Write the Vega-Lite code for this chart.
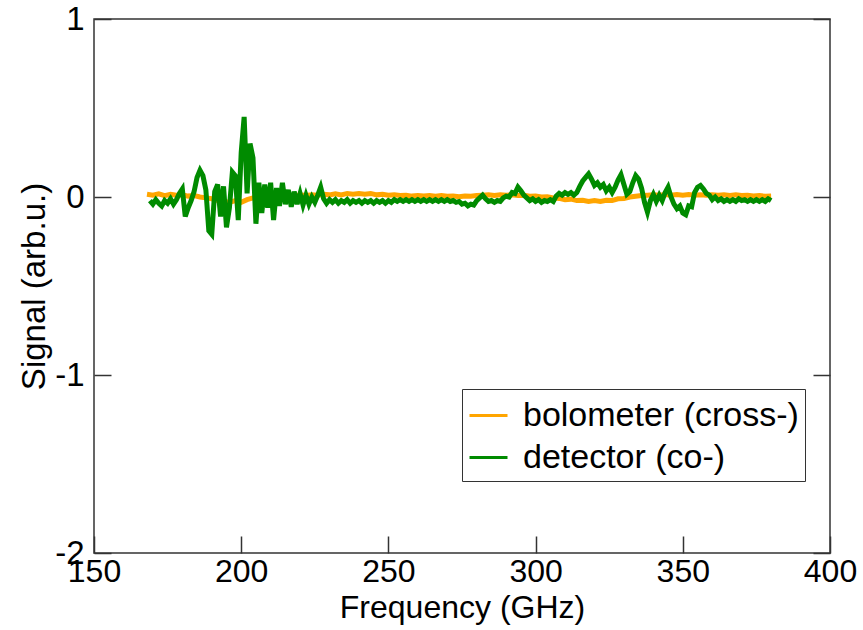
{
  "$schema": "https://vega.github.io/schema/vega-lite/v6.json",
  "width": 736,
  "height": 534,
  "autosize": {"type": "none"},
  "padding": {"left": 94, "top": 19, "right": 33, "bottom": 77},
  "background": "white",
  "config": {
    "view": {"stroke": "#333333", "strokeWidth": 1.5},
    "font": "Liberation Sans",
    "axis": {"labelFont": "Liberation Sans", "titleFont": "Liberation Sans", "labelColor": "black", "titleColor": "black", "titleFontWeight": "normal", "grid": false, "domain": false, "tickColor": "#333333", "tickWidth": 1.5},
    "legend": {"labelFont": "Liberation Sans"}
  },
  "datasets": {
    "main": [
      {"k":"bolometer (cross-)","f":168,"v":0.015},{"k":"bolometer (cross-)","f":170,"v":0.01},{"k":"bolometer (cross-)","f":172,"v":0.018},{"k":"bolometer (cross-)","f":174,"v":0.008},{"k":"bolometer (cross-)","f":176,"v":0.015},{"k":"bolometer (cross-)","f":178,"v":0.01},{"k":"bolometer (cross-)","f":180,"v":0.012},{"k":"bolometer (cross-)","f":182,"v":0.005},{"k":"bolometer (cross-)","f":184,"v":0.008},{"k":"bolometer (cross-)","f":186,"v":0.0},{"k":"bolometer (cross-)","f":188,"v":-0.005},{"k":"bolometer (cross-)","f":190,"v":-0.01},{"k":"bolometer (cross-)","f":192,"v":-0.02},{"k":"bolometer (cross-)","f":194,"v":-0.025},{"k":"bolometer (cross-)","f":196,"v":-0.03},{"k":"bolometer (cross-)","f":198,"v":-0.02},{"k":"bolometer (cross-)","f":200,"v":-0.03},{"k":"bolometer (cross-)","f":202,"v":-0.015},{"k":"bolometer (cross-)","f":204,"v":-0.005},{"k":"bolometer (cross-)","f":206,"v":0.0},{"k":"bolometer (cross-)","f":208,"v":0.005},{"k":"bolometer (cross-)","f":210,"v":0.0},{"k":"bolometer (cross-)","f":212,"v":0.008},{"k":"bolometer (cross-)","f":214,"v":0.005},{"k":"bolometer (cross-)","f":216,"v":0.01},{"k":"bolometer (cross-)","f":218,"v":0.005},{"k":"bolometer (cross-)","f":220,"v":0.012},{"k":"bolometer (cross-)","f":222,"v":0.008},{"k":"bolometer (cross-)","f":224,"v":0.012},{"k":"bolometer (cross-)","f":226,"v":0.01},{"k":"bolometer (cross-)","f":228,"v":0.015},{"k":"bolometer (cross-)","f":230,"v":0.012},{"k":"bolometer (cross-)","f":232,"v":0.018},{"k":"bolometer (cross-)","f":234,"v":0.012},{"k":"bolometer (cross-)","f":236,"v":0.02},{"k":"bolometer (cross-)","f":238,"v":0.015},{"k":"bolometer (cross-)","f":240,"v":0.02},{"k":"bolometer (cross-)","f":242,"v":0.015},{"k":"bolometer (cross-)","f":244,"v":0.02},{"k":"bolometer (cross-)","f":246,"v":0.012},{"k":"bolometer (cross-)","f":248,"v":0.015},{"k":"bolometer (cross-)","f":250,"v":0.01},{"k":"bolometer (cross-)","f":252,"v":0.012},{"k":"bolometer (cross-)","f":254,"v":0.008},{"k":"bolometer (cross-)","f":256,"v":0.01},{"k":"bolometer (cross-)","f":258,"v":0.005},{"k":"bolometer (cross-)","f":260,"v":0.008},{"k":"bolometer (cross-)","f":262,"v":0.005},{"k":"bolometer (cross-)","f":264,"v":0.008},{"k":"bolometer (cross-)","f":266,"v":0.004},{"k":"bolometer (cross-)","f":268,"v":0.008},{"k":"bolometer (cross-)","f":270,"v":0.004},{"k":"bolometer (cross-)","f":272,"v":0.006},{"k":"bolometer (cross-)","f":274,"v":0.002},{"k":"bolometer (cross-)","f":276,"v":0.006},{"k":"bolometer (cross-)","f":278,"v":0.004},{"k":"bolometer (cross-)","f":280,"v":0.008},{"k":"bolometer (cross-)","f":282,"v":0.01},{"k":"bolometer (cross-)","f":284,"v":0.012},{"k":"bolometer (cross-)","f":286,"v":0.008},{"k":"bolometer (cross-)","f":288,"v":0.012},{"k":"bolometer (cross-)","f":290,"v":0.01},{"k":"bolometer (cross-)","f":292,"v":0.012},{"k":"bolometer (cross-)","f":294,"v":0.008},{"k":"bolometer (cross-)","f":296,"v":0.01},{"k":"bolometer (cross-)","f":298,"v":0.004},{"k":"bolometer (cross-)","f":300,"v":0.006},{"k":"bolometer (cross-)","f":302,"v":0.0},{"k":"bolometer (cross-)","f":304,"v":0.002},{"k":"bolometer (cross-)","f":306,"v":-0.005},{"k":"bolometer (cross-)","f":308,"v":-0.008},{"k":"bolometer (cross-)","f":310,"v":-0.015},{"k":"bolometer (cross-)","f":312,"v":-0.012},{"k":"bolometer (cross-)","f":314,"v":-0.02},{"k":"bolometer (cross-)","f":316,"v":-0.018},{"k":"bolometer (cross-)","f":318,"v":-0.025},{"k":"bolometer (cross-)","f":320,"v":-0.02},{"k":"bolometer (cross-)","f":322,"v":-0.025},{"k":"bolometer (cross-)","f":324,"v":-0.018},{"k":"bolometer (cross-)","f":326,"v":-0.02},{"k":"bolometer (cross-)","f":328,"v":-0.01},{"k":"bolometer (cross-)","f":330,"v":-0.008},{"k":"bolometer (cross-)","f":332,"v":0.0},{"k":"bolometer (cross-)","f":334,"v":0.004},{"k":"bolometer (cross-)","f":336,"v":0.008},{"k":"bolometer (cross-)","f":338,"v":0.01},{"k":"bolometer (cross-)","f":340,"v":0.012},{"k":"bolometer (cross-)","f":342,"v":0.01},{"k":"bolometer (cross-)","f":344,"v":0.014},{"k":"bolometer (cross-)","f":346,"v":0.01},{"k":"bolometer (cross-)","f":348,"v":0.014},{"k":"bolometer (cross-)","f":350,"v":0.01},{"k":"bolometer (cross-)","f":352,"v":0.014},{"k":"bolometer (cross-)","f":354,"v":0.01},{"k":"bolometer (cross-)","f":356,"v":0.012},{"k":"bolometer (cross-)","f":358,"v":0.01},{"k":"bolometer (cross-)","f":360,"v":0.012},{"k":"bolometer (cross-)","f":362,"v":0.01},{"k":"bolometer (cross-)","f":364,"v":0.012},{"k":"bolometer (cross-)","f":366,"v":0.008},{"k":"bolometer (cross-)","f":368,"v":0.012},{"k":"bolometer (cross-)","f":370,"v":0.008},{"k":"bolometer (cross-)","f":372,"v":0.01},{"k":"bolometer (cross-)","f":374,"v":0.006},{"k":"bolometer (cross-)","f":376,"v":0.008},{"k":"bolometer (cross-)","f":378,"v":0.004},{"k":"bolometer (cross-)","f":380,"v":0.005},
      {"k":"detector (co-)","f":169,"v":-0.02},{"k":"detector (co-)","f":170,"v":-0.04},{"k":"detector (co-)","f":171,"v":-0.015},{"k":"detector (co-)","f":172,"v":-0.035},{"k":"detector (co-)","f":173,"v":-0.05},{"k":"detector (co-)","f":174,"v":-0.02},{"k":"detector (co-)","f":175,"v":-0.035},{"k":"detector (co-)","f":176,"v":-0.01},{"k":"detector (co-)","f":177,"v":-0.04},{"k":"detector (co-)","f":178,"v":-0.015},{"k":"detector (co-)","f":179,"v":0.02},{"k":"detector (co-)","f":180,"v":0.045},{"k":"detector (co-)","f":181,"v":-0.11},{"k":"detector (co-)","f":182,"v":-0.06},{"k":"detector (co-)","f":183,"v":-0.02},{"k":"detector (co-)","f":184,"v":0.03},{"k":"detector (co-)","f":185,"v":0.11},{"k":"detector (co-)","f":186,"v":0.15},{"k":"detector (co-)","f":187,"v":0.12},{"k":"detector (co-)","f":188,"v":0.04},{"k":"detector (co-)","f":189,"v":-0.19},{"k":"detector (co-)","f":190,"v":-0.21},{"k":"detector (co-)","f":191,"v":0.03},{"k":"detector (co-)","f":192,"v":0.07},{"k":"detector (co-)","f":193,"v":-0.11},{"k":"detector (co-)","f":194,"v":0.06},{"k":"detector (co-)","f":195,"v":-0.17},{"k":"detector (co-)","f":196,"v":-0.06},{"k":"detector (co-)","f":197,"v":0.14},{"k":"detector (co-)","f":198,"v":0.12},{"k":"detector (co-)","f":199,"v":-0.13},{"k":"detector (co-)","f":200,"v":0.25},{"k":"detector (co-)","f":201,"v":0.45},{"k":"detector (co-)","f":202,"v":0.02},{"k":"detector (co-)","f":203,"v":0.3},{"k":"detector (co-)","f":204,"v":0.22},{"k":"detector (co-)","f":205,"v":-0.15},{"k":"detector (co-)","f":206,"v":0.08},{"k":"detector (co-)","f":207,"v":-0.09},{"k":"detector (co-)","f":208,"v":0.07},{"k":"detector (co-)","f":209,"v":-0.06},{"k":"detector (co-)","f":210,"v":0.08},{"k":"detector (co-)","f":211,"v":-0.13},{"k":"detector (co-)","f":212,"v":0.05},{"k":"detector (co-)","f":213,"v":-0.05},{"k":"detector (co-)","f":214,"v":0.08},{"k":"detector (co-)","f":215,"v":-0.04},{"k":"detector (co-)","f":216,"v":0.04},{"k":"detector (co-)","f":217,"v":-0.055},{"k":"detector (co-)","f":218,"v":0.03},{"k":"detector (co-)","f":219,"v":-0.04},{"k":"detector (co-)","f":220,"v":0.02},{"k":"detector (co-)","f":221,"v":-0.045},{"k":"detector (co-)","f":222,"v":0.01},{"k":"detector (co-)","f":223,"v":-0.04},{"k":"detector (co-)","f":224,"v":0.0},{"k":"detector (co-)","f":225,"v":-0.03},{"k":"detector (co-)","f":226,"v":0.01},{"k":"detector (co-)","f":227,"v":0.055},{"k":"detector (co-)","f":228,"v":-0.01},{"k":"detector (co-)","f":229,"v":-0.035},{"k":"detector (co-)","f":230,"v":-0.015},{"k":"detector (co-)","f":231,"v":-0.03},{"k":"detector (co-)","f":232,"v":-0.015},{"k":"detector (co-)","f":233,"v":-0.035},{"k":"detector (co-)","f":234,"v":-0.02},{"k":"detector (co-)","f":235,"v":-0.03},{"k":"detector (co-)","f":236,"v":-0.015},{"k":"detector (co-)","f":237,"v":-0.035},{"k":"detector (co-)","f":238,"v":-0.02},{"k":"detector (co-)","f":239,"v":-0.03},{"k":"detector (co-)","f":240,"v":-0.02},{"k":"detector (co-)","f":241,"v":-0.035},{"k":"detector (co-)","f":242,"v":-0.02},{"k":"detector (co-)","f":243,"v":-0.03},{"k":"detector (co-)","f":244,"v":-0.02},{"k":"detector (co-)","f":245,"v":-0.035},{"k":"detector (co-)","f":246,"v":-0.02},{"k":"detector (co-)","f":247,"v":-0.03},{"k":"detector (co-)","f":248,"v":-0.02},{"k":"detector (co-)","f":249,"v":-0.035},{"k":"detector (co-)","f":250,"v":-0.02},{"k":"detector (co-)","f":251,"v":-0.03},{"k":"detector (co-)","f":252,"v":-0.015},{"k":"detector (co-)","f":253,"v":-0.025},{"k":"detector (co-)","f":254,"v":-0.015},{"k":"detector (co-)","f":255,"v":-0.025},{"k":"detector (co-)","f":256,"v":-0.015},{"k":"detector (co-)","f":257,"v":-0.025},{"k":"detector (co-)","f":258,"v":-0.015},{"k":"detector (co-)","f":259,"v":-0.025},{"k":"detector (co-)","f":260,"v":-0.015},{"k":"detector (co-)","f":261,"v":-0.025},{"k":"detector (co-)","f":262,"v":-0.015},{"k":"detector (co-)","f":263,"v":-0.025},{"k":"detector (co-)","f":264,"v":-0.015},{"k":"detector (co-)","f":265,"v":-0.025},{"k":"detector (co-)","f":266,"v":-0.015},{"k":"detector (co-)","f":267,"v":-0.025},{"k":"detector (co-)","f":268,"v":-0.015},{"k":"detector (co-)","f":269,"v":-0.025},{"k":"detector (co-)","f":270,"v":-0.015},{"k":"detector (co-)","f":271,"v":-0.025},{"k":"detector (co-)","f":272,"v":-0.02},{"k":"detector (co-)","f":273,"v":-0.03},{"k":"detector (co-)","f":274,"v":-0.025},{"k":"detector (co-)","f":275,"v":-0.04},{"k":"detector (co-)","f":276,"v":-0.035},{"k":"detector (co-)","f":277,"v":-0.05},{"k":"detector (co-)","f":278,"v":-0.04},{"k":"detector (co-)","f":279,"v":-0.045},{"k":"detector (co-)","f":280,"v":-0.02},{"k":"detector (co-)","f":281,"v":-0.005},{"k":"detector (co-)","f":282,"v":0.01},{"k":"detector (co-)","f":283,"v":-0.01},{"k":"detector (co-)","f":284,"v":-0.025},{"k":"detector (co-)","f":285,"v":-0.02},{"k":"detector (co-)","f":286,"v":-0.03},{"k":"detector (co-)","f":287,"v":-0.02},{"k":"detector (co-)","f":288,"v":-0.025},{"k":"detector (co-)","f":289,"v":-0.005},{"k":"detector (co-)","f":290,"v":0.005},{"k":"detector (co-)","f":291,"v":0.0},{"k":"detector (co-)","f":292,"v":0.025},{"k":"detector (co-)","f":293,"v":0.02},{"k":"detector (co-)","f":294,"v":0.055},{"k":"detector (co-)","f":295,"v":0.035},{"k":"detector (co-)","f":296,"v":0.01},{"k":"detector (co-)","f":297,"v":-0.005},{"k":"detector (co-)","f":298,"v":-0.02},{"k":"detector (co-)","f":299,"v":-0.01},{"k":"detector (co-)","f":300,"v":-0.025},{"k":"detector (co-)","f":301,"v":-0.015},{"k":"detector (co-)","f":302,"v":-0.03},{"k":"detector (co-)","f":303,"v":-0.02},{"k":"detector (co-)","f":304,"v":-0.025},{"k":"detector (co-)","f":305,"v":-0.015},{"k":"detector (co-)","f":306,"v":-0.025},{"k":"detector (co-)","f":307,"v":0.005},{"k":"detector (co-)","f":308,"v":0.02},{"k":"detector (co-)","f":309,"v":0.01},{"k":"detector (co-)","f":310,"v":0.025},{"k":"detector (co-)","f":311,"v":0.015},{"k":"detector (co-)","f":312,"v":0.025},{"k":"detector (co-)","f":313,"v":0.01},{"k":"detector (co-)","f":314,"v":0.025},{"k":"detector (co-)","f":315,"v":0.06},{"k":"detector (co-)","f":316,"v":0.09},{"k":"detector (co-)","f":317,"v":0.11},{"k":"detector (co-)","f":318,"v":0.13},{"k":"detector (co-)","f":319,"v":0.1},{"k":"detector (co-)","f":320,"v":0.065},{"k":"detector (co-)","f":321,"v":0.08},{"k":"detector (co-)","f":322,"v":0.055},{"k":"detector (co-)","f":323,"v":0.07},{"k":"detector (co-)","f":324,"v":0.035},{"k":"detector (co-)","f":325,"v":0.055},{"k":"detector (co-)","f":326,"v":0.025},{"k":"detector (co-)","f":327,"v":0.055},{"k":"detector (co-)","f":328,"v":0.095},{"k":"detector (co-)","f":329,"v":0.125},{"k":"detector (co-)","f":330,"v":0.07},{"k":"detector (co-)","f":331,"v":0.015},{"k":"detector (co-)","f":332,"v":0.03},{"k":"detector (co-)","f":333,"v":0.08},{"k":"detector (co-)","f":334,"v":0.12},{"k":"detector (co-)","f":335,"v":0.1},{"k":"detector (co-)","f":336,"v":0.05},{"k":"detector (co-)","f":337,"v":-0.03},{"k":"detector (co-)","f":338,"v":-0.085},{"k":"detector (co-)","f":339,"v":-0.02},{"k":"detector (co-)","f":340,"v":0.015},{"k":"detector (co-)","f":341,"v":-0.025},{"k":"detector (co-)","f":342,"v":0.01},{"k":"detector (co-)","f":343,"v":-0.02},{"k":"detector (co-)","f":344,"v":0.025},{"k":"detector (co-)","f":345,"v":0.055},{"k":"detector (co-)","f":346,"v":0.0},{"k":"detector (co-)","f":347,"v":-0.04},{"k":"detector (co-)","f":348,"v":-0.065},{"k":"detector (co-)","f":349,"v":-0.05},{"k":"detector (co-)","f":350,"v":-0.09},{"k":"detector (co-)","f":351,"v":-0.1},{"k":"detector (co-)","f":352,"v":-0.05},{"k":"detector (co-)","f":353,"v":-0.055},{"k":"detector (co-)","f":354,"v":0.025},{"k":"detector (co-)","f":355,"v":0.055},{"k":"detector (co-)","f":356,"v":0.065},{"k":"detector (co-)","f":357,"v":0.045},{"k":"detector (co-)","f":358,"v":0.02},{"k":"detector (co-)","f":359,"v":0.01},{"k":"detector (co-)","f":360,"v":-0.015},{"k":"detector (co-)","f":361,"v":0.0},{"k":"detector (co-)","f":362,"v":-0.02},{"k":"detector (co-)","f":363,"v":-0.01},{"k":"detector (co-)","f":364,"v":-0.025},{"k":"detector (co-)","f":365,"v":-0.015},{"k":"detector (co-)","f":366,"v":-0.025},{"k":"detector (co-)","f":367,"v":-0.015},{"k":"detector (co-)","f":368,"v":-0.025},{"k":"detector (co-)","f":369,"v":-0.01},{"k":"detector (co-)","f":370,"v":-0.02},{"k":"detector (co-)","f":371,"v":-0.015},{"k":"detector (co-)","f":372,"v":-0.025},{"k":"detector (co-)","f":373,"v":-0.015},{"k":"detector (co-)","f":374,"v":-0.025},{"k":"detector (co-)","f":375,"v":-0.015},{"k":"detector (co-)","f":376,"v":-0.025},{"k":"detector (co-)","f":377,"v":-0.015},{"k":"detector (co-)","f":378,"v":-0.025},{"k":"detector (co-)","f":379,"v":-0.01},{"k":"detector (co-)","f":380,"v":-0.02}
    ]
  },
  "layer": [
    {
      "data": {"name": "main"},
      "mark": {"type": "line", "strokeWidth": 5, "clip": true},
      "encoding": {
        "x": {"field": "f", "type": "quantitative",
          "scale": {"domain": [150, 400], "nice": false, "zero": false},
          "axis": {"values": [150, 200, 250, 300, 350, 400], "tickSize": -17, "labelFontSize": 32, "labelPadding": 20, "labelFlush": false, "labelOverlap": false, "title": "Frequency (GHz)", "titleFontSize": 32, "titlePadding": 5}},
        "y": {"field": "v", "type": "quantitative",
          "scale": {"domain": [-2, 1], "nice": false, "zero": false},
          "axis": {"values": [-2, -1, 0, 1], "labelExpr": "'' + datum.value", "tickSize": -17, "labelFontSize": 33, "labelPadding": 27, "labelOverlap": false, "title": "Signal (arb.u.)", "titleFontSize": 33, "titlePadding": 3}},
        "color": {"field": "k", "type": "nominal",
          "scale": {"domain": ["bolometer (cross-)", "detector (co-)"], "range": ["#FFA500", "#008B00"]},
          "legend": {"orient": "none", "legendX": 368, "legendY": 370, "title": null, "symbolType": "stroke", "symbolSize": 1444, "symbolStrokeWidth": 3, "labelFontSize": 34, "labelOffset": 14, "padding": 6, "rowPadding": 4, "strokeColor": "#333333", "fillColor": "white", "labelLimit": 400, "labelColor": "black"}}
      }
    },
    {
      "data": {"name": "main"},
      "mark": {"type": "line", "opacity": 0},
      "encoding": {
        "x": {"field": "f", "type": "quantitative", "scale": {"domain": [150, 400], "nice": false, "zero": false}},
        "y": {"field": "v", "type": "quantitative",
          "scale": {"domain": [-2, 1], "nice": false, "zero": false},
          "axis": {"orient": "right", "values": [-2, -1, 0, 1], "labels": false, "tickSize": -17, "title": null}}
      }
    }
  ],
  "resolve": {"scale": {"y": "independent"}, "axis": {"y": "independent"}}
}
